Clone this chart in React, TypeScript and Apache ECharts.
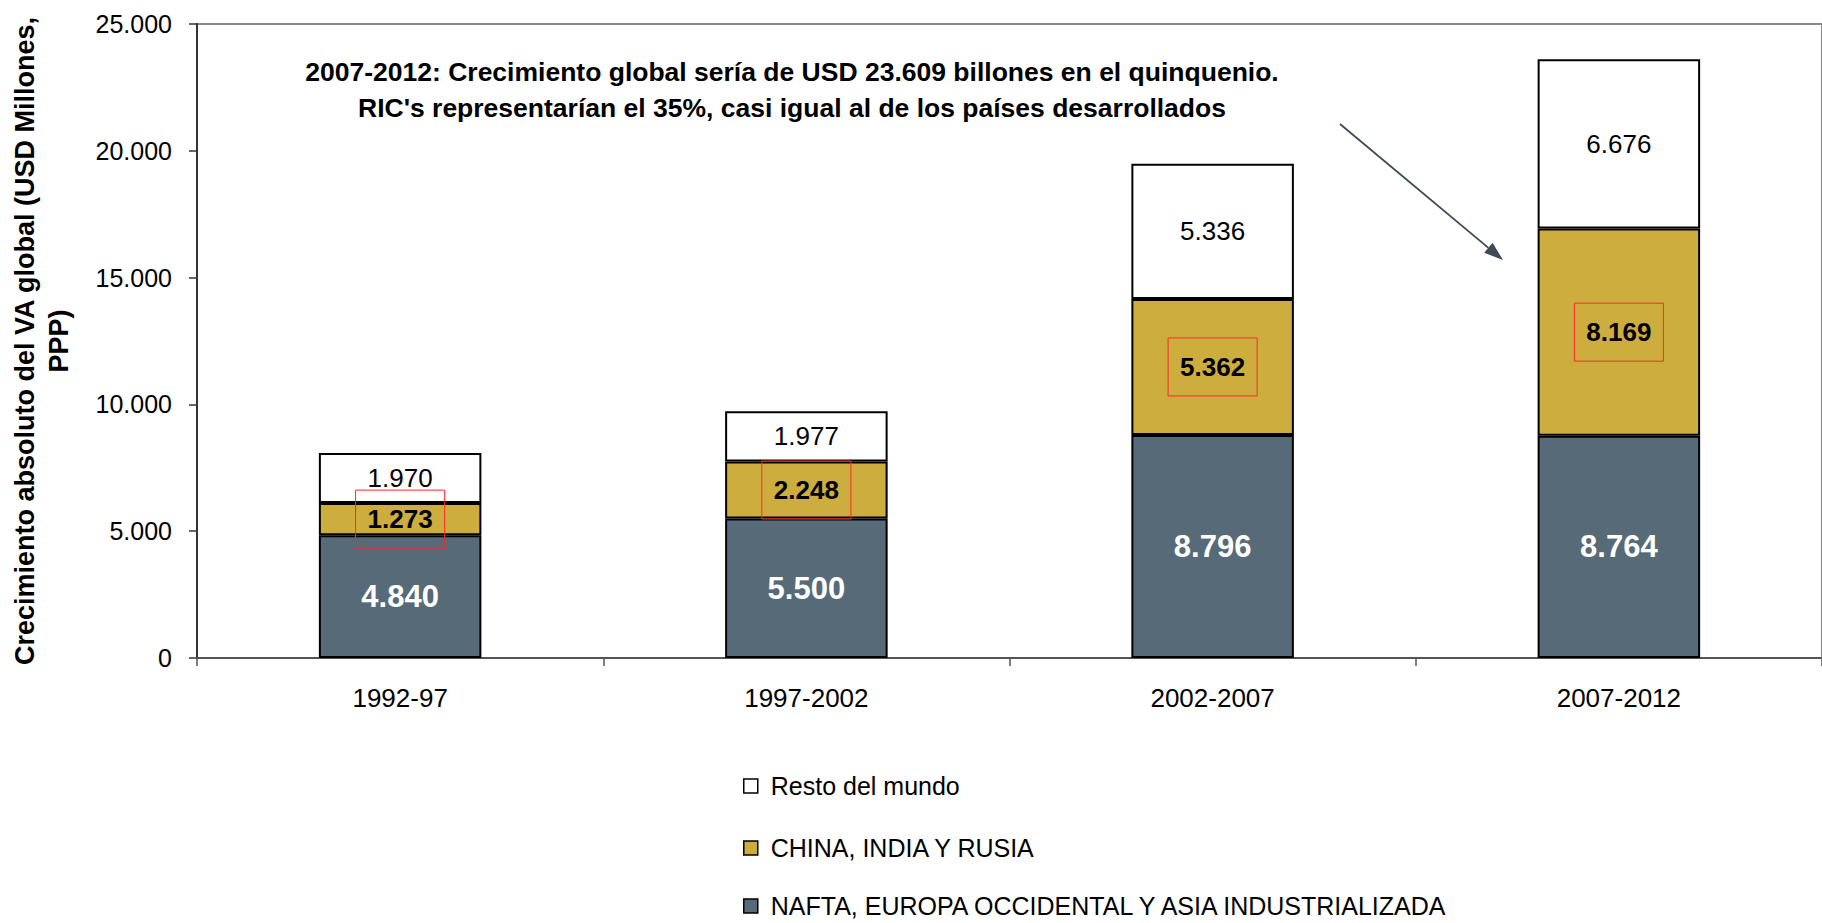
import React, { useEffect, useRef } from "react";
import * as echarts from "echarts";

const categories = ["1992-97", "1997-2002", "2002-2007", "2007-2012"];
const naftaValues = [4840, 5500, 8796, 8764];
const cirValues = [1273, 2248, 5362, 8169];
const restoValues = [1970, 1977, 5336, 6676];
const seriesNames = [
  "NAFTA, EUROPA OCCIDENTAL Y ASIA INDUSTRIALIZADA",
  "CHINA, INDIA Y RUSIA",
  "Resto del mundo",
];
const legendOrder = [seriesNames[2], seriesNames[1], seriesNames[0]];
const yTicks = { min: 0, max: 25000, interval: 5000 };
const yAxisName = "Crecimiento absoluto del VA global (USD Millones,\nPPP)";
const annotationText =
  "2007-2012: Crecimiento global sería de USD 23.609 billones en el quinquenio.\nRIC's representarían el 35%, casi igual al de los países desarrollados";

const FONT = "'Liberation Sans', Arial, Helvetica, sans-serif";
const fmt = (n: number) => String(n).replace(/\B(?=(\d{3})+(?!\d))/g, ".");

export default function App() {
  const ref = useRef<HTMLDivElement>(null);
  useEffect(() => {
    document.body.style.margin = "0";
    if (!ref.current) return;
    const chart = echarts.init(ref.current, null, { renderer: "svg" });

    // arrow geometry (annotation)
    const tip = [1503, 260];
    const start = [1340, 124];
    const dx = tip[0] - start[0];
    const dy = tip[1] - start[1];
    const L = Math.sqrt(dx * dx + dy * dy);
    const ux = dx / L;
    const uy = dy / L;
    const hl = 19;
    const hw = 6.5;
    const base = [tip[0] - ux * hl, tip[1] - uy * hl];
    const p1 = [base[0] - uy * hw, base[1] + ux * hw];
    const p2 = [base[0] + uy * hw, base[1] - ux * hw];

    const legendTops = [773, 835, 893];
    const legends = legendOrder.map((name, i) => ({
      orient: "vertical",
      left: 743,
      top: legendTops[i],
      padding: 0,
      itemWidth: 14,
      itemHeight: 14,
      icon: "rect",
      data: [name],
      itemStyle: { borderColor: "#000", borderWidth: 1.5 },
      textStyle: {
        fontFamily: FONT,
        fontSize: 25,
        color: "#000",
        lineHeight: 26,
        padding: [0, 0, 0, 8],
      },
    }));

    chart.setOption({
      animation: false,
      backgroundColor: "#ffffff",
      textStyle: { fontFamily: FONT },
      grid: {
        left: 197,
        top: 24,
        right: -11,
        bottom: 265,
        show: true,
        borderColor: "#8a8a8a",
        borderWidth: 2,
        backgroundColor: "transparent",
      },
      legend: legends,
      xAxis: {
        type: "category",
        data: categories,
        axisLine: { lineStyle: { color: "#555", width: 2 } },
        axisTick: { show: true, length: 8, lineStyle: { color: "#555", width: 1.5 } },
        axisLabel: { fontFamily: FONT, fontSize: 26, color: "#000", margin: 27 },
        splitLine: { show: false },
      },
      yAxis: {
        type: "value",
        min: yTicks.min,
        max: yTicks.max,
        interval: yTicks.interval,
        name: yAxisName,
        nameLocation: "middle",
        nameRotate: 90,
        nameGap: 121,
        nameTextStyle: {
          fontFamily: FONT,
          fontSize: 27,
          fontWeight: "bold",
          color: "#000",
          lineHeight: 34,
          align: "center",
        },
        axisLine: { show: true, lineStyle: { color: "#333", width: 2 } },
        axisTick: { show: true, length: 8, lineStyle: { color: "#333", width: 1.5 } },
        axisLabel: {
          fontFamily: FONT,
          fontSize: 25,
          color: "#000",
          margin: 25,
          formatter: (v: number) => fmt(v),
        },
        splitLine: { show: false },
      },
      series: [
        {
          name: seriesNames[0],
          type: "bar",
          stack: "total",
          barWidth: "40%",
          data: naftaValues,
          itemStyle: { color: "#576a78", borderColor: "#000", borderWidth: 2 },
          label: {
            show: true,
            position: "inside",
            formatter: (p: any) => fmt(p.value),
            fontFamily: FONT,
            fontSize: 31,
            fontWeight: "bold",
            color: "#fff",
          },
        },
        {
          name: seriesNames[1],
          type: "bar",
          stack: "total",
          barWidth: "40%",
          data: cirValues,
          itemStyle: { color: "#ccad3d", borderColor: "#000", borderWidth: 2 },
          label: {
            show: true,
            position: "inside",
            formatter: (p: any) => fmt(p.value),
            fontFamily: FONT,
            fontSize: 26,
            fontWeight: "bold",
            color: "#000",
            lineHeight: 26,
            borderColor: "#ff2a2a",
            borderWidth: 1,
            padding: [16, 12, 16, 12],
          },
        },
        {
          name: seriesNames[2],
          type: "bar",
          stack: "total",
          barWidth: "40%",
          data: restoValues,
          itemStyle: { color: "#ffffff", borderColor: "#000", borderWidth: 2 },
          label: {
            show: true,
            position: "inside",
            formatter: (p: any) => fmt(p.value),
            fontFamily: FONT,
            fontSize: 26,
            color: "#000",
          },
        },
      ],
      graphic: [
        {
          type: "text",
          x: 792,
          y: 90,
          style: {
            text: annotationText,
            fontFamily: FONT,
            fontSize: 26.5,
            fontWeight: "bold",
            fill: "#000",
            align: "center",
            verticalAlign: "middle",
            lineHeight: 36,
          },
          z: 10,
        },
        {
          type: "line",
          shape: { x1: start[0], y1: start[1], x2: base[0], y2: base[1] },
          style: { stroke: "#3f4a55", lineWidth: 1.8 },
          z: 10,
        },
        {
          type: "polygon",
          shape: { points: [tip, p1, p2] },
          style: { fill: "#3f4a55" },
          z: 10,
        },
      ],
    });
    return () => chart.dispose();
  }, []);
  return (
    <div
      ref={ref}
      style={{ position: "absolute", left: 0, top: 0, width: 1822, height: 923 }}
    />
  );
}
